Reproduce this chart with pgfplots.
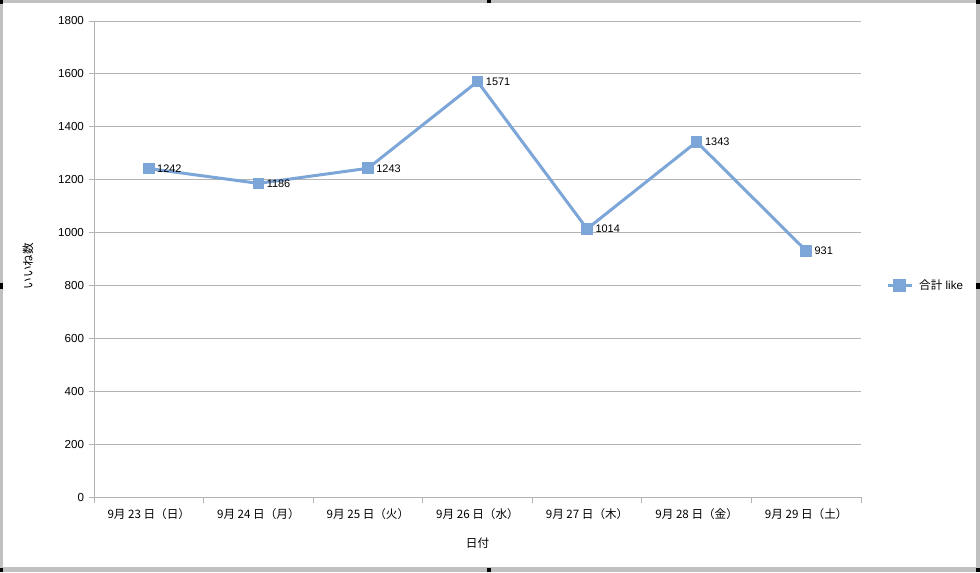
\documentclass[border=0pt]{standalone}
\usepackage{pgfplots}
\pgfplotsset{compat=1.18}
\usepackage{fontspec}
\setmainfont{Liberation Sans}
\newfontfamily\cjk{Noto Sans CJK JP}
\definecolor{lineblue}{HTML}{7DA6D8}
\definecolor{gridgray}{HTML}{B3B3B3}
\definecolor{framegray}{HTML}{C0C0C0}
\pgfplotstableread{
x y
0 1242
1 1186
2 1243
3 1571
4 1014
5 1343
6 931
}\likes
\begin{document}
\begin{tikzpicture}
% canvas and frame (1px = 0.75pt)
\fill[white] (0pt,0pt) rectangle (735pt,429pt);
\fill[framegray] (0pt,427pt) rectangle (735pt,429pt);
\fill[framegray] (0pt,0pt) rectangle (735pt,3.75pt);
\fill[framegray] (0pt,0pt) rectangle (2.25pt,429pt);
\fill[framegray] (732pt,0pt) rectangle (735pt,429pt);
\fill[black] (0pt,426pt) rectangle (2.25pt,429pt);
\fill[black] (365.25pt,427pt) rectangle (368.25pt,429pt);
\fill[black] (732pt,426pt) rectangle (735pt,429pt);
\fill[black] (0pt,212.25pt) rectangle (2.25pt,216.75pt);
\fill[black] (732pt,212.25pt) rectangle (735pt,216.75pt);
\fill[black] (0pt,0pt) rectangle (2.25pt,3pt);
\fill[black] (365.25pt,0pt) rectangle (368.25pt,3pt);
\fill[black] (732pt,0pt) rectangle (735pt,3pt);
\begin{axis}[
  at={(70.5pt,56.25pt)}, anchor=south west,
  scale only axis,
  width=575.25pt, height=357pt,
  xmin=-0.5, xmax=6.5,
  ymin=0, ymax=1800,
  ytick={0,200,...,1800},
  xtick={0,...,6},
  xticklabels={{9月 23 日（日）},{9月 24 日（月）},{9月 25 日（火）},{9月 26 日（水）},{9月 27 日（木）},{9月 28 日（金）},{9月 29 日（土）}},
  x tick label style={font=\cjk\fontsize{8.7}{10}\selectfont, yshift=-1pt},
  y tick label style={font=\fontsize{8.7}{10}\selectfont},
  /pgf/number format/assume math mode=true,
  /pgf/number format/1000 sep={},
  minor xtick={-0.5,0.5,...,6.5},
  major x tick style={draw=none},
  minor x tick style={draw=gridgray, line width=0.75pt},
  minor tick length=4.5pt,
  major tick length=4pt,
  y tick style={draw=gridgray, line width=0.75pt},
  tick align=outside,
  xtick pos=bottom, ytick pos=left,
  axis x line*=bottom, axis y line*=left,
  axis line style={draw=gridgray, line width=0.75pt, -},
  ymajorgrids,
  grid style={draw=gridgray, line width=0.75pt},
  xlabel={\cjk 日付},
  xlabel style={font=\fontsize{8.7}{10}\selectfont, at={(axis description cs:0.5,-0.0966)}, anchor=center},
  ylabel={\cjk いいね数},
  ylabel style={font=\fontsize{8.7}{10}\selectfont, at={(axis description cs:-0.086,0.485)}, anchor=center},
  legend style={draw=none, fill=none, at={(axis description cs:1.0325,0.445)}, anchor=west,
    font=\fontsize{8.7}{10}\selectfont, inner sep=0pt},
  legend cell align=left,
  legend image code/.code={
    \draw[lineblue, line width=2.25pt] (0pt,0pt) -- (18pt,0pt);
    \fill[lineblue] (5.25pt,-3.75pt) rectangle (12.75pt,3.75pt);
  },
  clip=false,
]
\addplot[lineblue, line width=2.25pt, mark=square*, mark size=4pt,
  mark options={fill=lineblue, draw=lineblue, line width=0pt},
  nodes near coords,
  every node near coord/.append style={anchor=west, xshift=3pt, yshift=0pt, font=\fontsize{8.2}{9}\selectfont, text=black},
] table[x=x, y=y] {\likes};
\addlegendentry{\hspace{2.5pt}{\cjk 合計} like}
\end{axis}
\end{tikzpicture}
\end{document}
